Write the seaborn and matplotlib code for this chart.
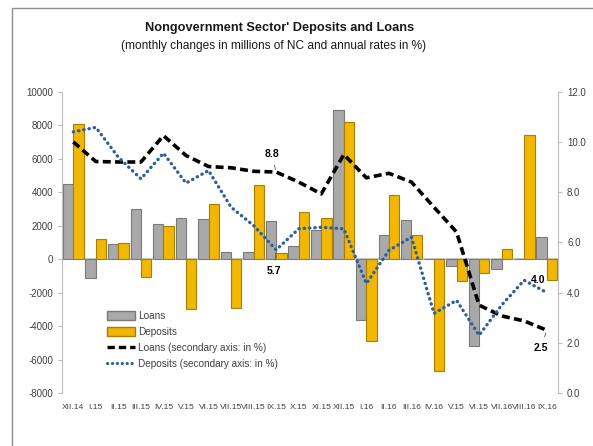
import matplotlib
matplotlib.use('Agg')
import matplotlib.pyplot as plt
import seaborn as sns
import pandas as pd
from matplotlib.lines import Line2D
from matplotlib.patches import Patch

# 月份（原图 V.15 / VI.15 重复出现，照抄）
months = ['XII.14', 'I.15', 'II.15', 'III.15', 'IV.15', 'V.15', 'VI.15', 'VII.15',
          'VIII.15', 'IX.15', 'X.15', 'XI.15', 'XII.15', 'I.16', 'II.16', 'III.16',
          'IV.16', 'V.15', 'VI.15', 'VII.16', 'VIII.16', 'IX.16']
loans = [4500, -1100, 900, 3000, 2100, 2440, 2400, 400, 400, 2300, 760, 1760,
         8900, -3620, 1460, 2340, 0, -420, -5220, -620, 0, 1340]
deposits = [8100, 1200, 950, -1060, 1960, -3000, 3300, -2900, 4400, 360, 2840, 2460,
            8200, -4920, 3840, 1440, -6700, -1320, -820, 600, 7440, -1220]
loans_rate = [10.0, 9.22, 9.2, 9.2, 10.25, 9.46, 9.02, 8.97, 8.83, 8.8, 8.4, 7.93,
              9.5, 8.57, 8.75, 8.4, 7.4, 6.41, 3.5, 3.07, 2.87, 2.5]
deposits_rate = [10.4, 10.58, 9.39, 8.53, 9.55, 8.36, 8.86, 7.4, 6.67, 5.7, 6.54, 6.6,
                 6.54, 4.36, 5.68, 6.21, 3.17, 3.69, 2.3, 3.5, 4.49, 4.0]

gray = '#a9a9a9'
gold = '#f2b705'
blue = '#2f5f98'
txt = '#404040'

sns.set_style('white')
plt.rcParams['font.family'] = ['Liberation Sans', 'DejaVu Sans']
plt.rcParams['axes.unicode_minus'] = False

n = len(months)
df = pd.DataFrame({'idx': list(range(n)) * 2,
                   'value': loans + deposits,
                   'kind': ['Loans'] * n + ['Deposits'] * n})

fig = plt.figure(figsize=(5.93, 4.46), dpi=100)
ax = fig.add_axes([62/593, 1-393/446, 496/593, (393-91.7)/446])

sns.barplot(data=df, x='idx', y='value', hue='kind', palette=[gray, gold],
            width=0.92, ax=ax, legend=False, saturation=1)
for i, p in enumerate(ax.patches):
    p.set_edgecolor('#7a7a7a' if i < n else '#a87f00')
    p.set_linewidth(0.8)

ax.set_ylim(-8000, 10000)
ax.set_xlim(-0.5, n-0.5)
ax.set_yticks(range(-8000, 10001, 2000))
ax.set_xticks(range(n))
ax.set_xticklabels(months)
ax.set_xlabel('')
ax.set_ylabel('')
ax.axhline(0, color='#bfbfbf', lw=1.2, zorder=0)
ax.tick_params(axis='y', labelsize=7, colors=txt, length=3, direction='out', left=True, color='#bfbfbf')
ax.tick_params(axis='x', labelsize=6.1, colors=txt, length=0, pad=8)
for s in ['top', 'bottom']:
    ax.spines[s].set_visible(False)
ax.spines['left'].set_color('#bfbfbf')
ax.spines['right'].set_visible(False)

ax2 = ax.twinx()
ax2.plot(range(n), loans_rate, color='black', lw=2.6, ls=(0, (2.2, 1.2)), zorder=5)
ax2.plot(range(n), deposits_rate, color=blue, lw=2.4, ls=(0, (0.1, 1.5)),
         dash_capstyle='round', zorder=5)
ax2.set_ylim(0, 12)
ax2.set_yticks([0, 2, 4, 6, 8, 10, 12])
ax2.set_yticklabels([f'{v:.1f}' for v in [0, 2, 4, 6, 8, 10, 12]])
ax2.tick_params(axis='y', labelsize=7, colors=txt, length=3, direction='out', right=True, color='#bfbfbf')
for s in ['top', 'bottom', 'left']:
    ax2.spines[s].set_visible(False)
ax2.spines['right'].set_color('#bfbfbf')

# 数据标签
lab = dict(fontsize=7.5, fontweight='bold', color='black')
ax2.annotate('8.8', xy=(9, 8.8), xytext=(8.8, 9.5), ha='center', va='center',
             arrowprops=dict(arrowstyle='-', color='#595959', lw=0.6), **lab)
ax2.annotate('5.7', xy=(9, 5.7), xytext=(8.9, 4.85), ha='center', va='center',
             arrowprops=dict(arrowstyle='-', color='#595959', lw=0.6), **lab)
ax2.text(20.6, 4.5, '4.0', ha='center', va='center', **lab)
ax2.annotate('2.5', xy=(21, 2.5), xytext=(20.75, 1.8), ha='center', va='center',
             arrowprops=dict(arrowstyle='-', color='#595959', lw=0.6), **lab)

handles = [Patch(facecolor=gray, edgecolor='#7a7a7a'),
           Patch(facecolor=gold, edgecolor='#a87f00'),
           Line2D([], [], color='black', lw=2.4, ls=(0, (2.2, 1.2))),
           Line2D([], [], color=blue, lw=2.2, ls=(0, (0.1, 1.5)), dash_capstyle='round')]
labels = ['Loans', 'Deposits', 'Loans (secondary axis: in %)', 'Deposits (secondary axis: in %)']
fig.legend(handles, labels, loc='upper left', bbox_to_anchor=(98/593, 1-302/446),
           frameon=False, fontsize=7.2, handlelength=2.8, handleheight=0.9,
           labelspacing=0.6, handletextpad=0.3, labelcolor=txt)

fig.text(280/593, 1-28/446, "Nongovernment Sector' Deposits and Loans",
         ha='center', va='center', fontsize=9.2, fontweight='bold', color='#1a1a1a')
fig.text(274/593, 1-46/446, '(monthly changes in millions of NC and annual rates in %)',
         ha='center', va='center', fontsize=8.6, color='#1a1a1a')

# 外框
fig.add_artist(Line2D([12/593, 1], [1-8/446, 1-8/446], transform=fig.transFigure,
                      color='#8c8c8c', lw=1))
fig.add_artist(Line2D([12/593, 12/593], [0, 1-8/446], transform=fig.transFigure,
                      color='#8c8c8c', lw=1))

fig.savefig('out.png', dpi=100)
